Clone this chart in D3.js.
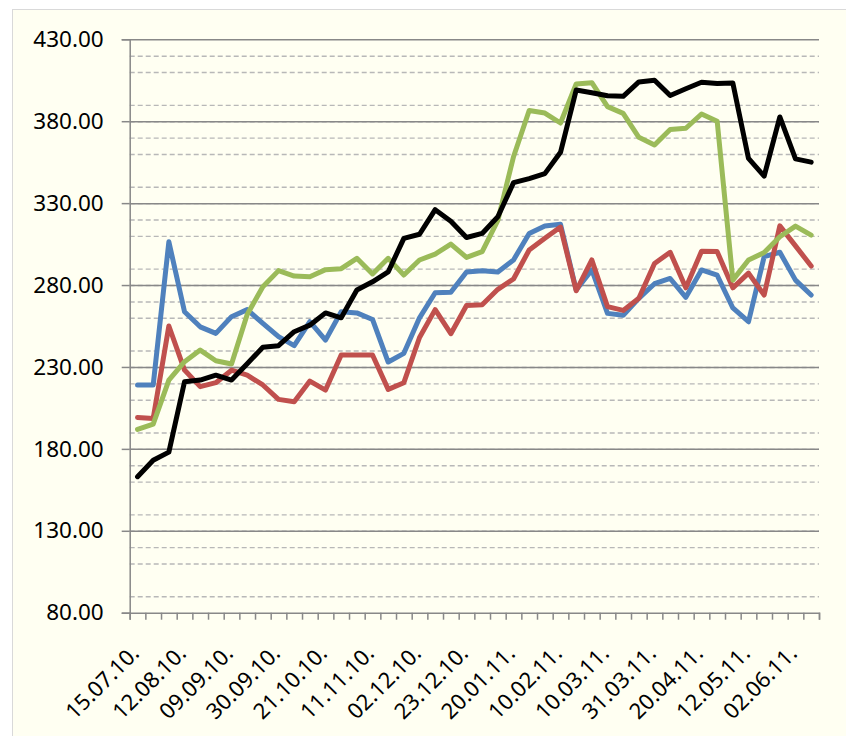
<!DOCTYPE html>
<html>
<head>
<meta charset="utf-8">
<script src="https://cdn.jsdelivr.net/npm/d3@7"></script>
<style>
  body { margin: 0; background: #ffffff; }
  svg { display: block; font-family: "Noto Sans", sans-serif; }
</style>
</head>
<body>
<svg width="846" height="736"></svg>
<script>
// tick labels, one every third category (44 categories in all)
const tickLabels = ['15.07.10.', '12.08.10.', '09.09.10.', '30.09.10.', '21.10.10.', '11.11.10.', '02.12.10.',
  '23.12.10.', '20.01.11.', '10.02.11.', '10.03.11.', '31.03.11.', '20.04.11.', '12.05.11.', '02.06.11.'];

const blue = [219, 219, 306.4, 263.7, 254.5, 250.5, 260.7, 265, 256.6, 248.5, 243, 257.6, 246.4, 263.7, 263, 259,
  233, 238.3, 260, 275.3, 275.6, 288, 288.7, 288, 295.3, 311.5, 316.1, 317.1, 277, 289.2, 262.7, 261.5,
  271.9, 280.8, 284, 272.5, 289.2, 286, 266, 257.6, 297.3, 300, 283, 273.9];
const red = [199.2, 198.6, 255, 228.1, 218, 220.4, 228, 225, 219, 210.2, 208.8, 221.4, 215.9, 237.3, 237.3, 237.3,
  216.3, 220.4, 248, 265, 250.3, 267.5, 268, 277.4, 283.7, 301.4, 308.5, 315.4, 276.5, 295.3, 266.8, 264.5,
  271.9, 293.2, 300, 278.3, 300.6, 300.4, 278.3, 287.3, 273.9, 316.1, 303.9, 291.6];
const green = [191.9, 195.1, 222, 233.2, 240.3, 233.8, 231.8, 262, 279, 288.8, 285.5, 285.1, 289.4, 290, 296.3, 286.8,
  296.3, 286.1, 295.3, 298.9, 305, 296.9, 300.4, 319.5, 358.3, 386.5, 385, 378.9, 402.7, 403.5, 388.9, 384.8,
  370.2, 365.5, 375, 375.7, 384.4, 380, 283, 295.3, 299.8, 309.5, 316, 310.5];
const black = [163, 173, 178, 221, 222, 225, 222, 232, 242, 243, 251.5, 255.5, 263, 260, 277, 282,
  288, 308.5, 311, 326, 319, 309, 311.5, 321.7, 342.5, 345, 348, 361, 399, 397.4, 395.5, 395.2,
  404, 405, 395.7, 399.8, 403.8, 403, 403.3, 357.3, 346.5, 382.6, 357, 355];

const series = [
  {values: blue, color: '#4F81BD'},
  {values: red, color: '#C0504D'},
  {values: green, color: '#9BBB59'},
  {values: black, color: '#000000'}
];

const svg = d3.select('svg');
const plotLeft = 129.7, plotRight = 819, plotTop = 39.3, plotBottom = 612.7;

svg.append('rect')
  .attr('x', 12.5).attr('y', 9.5)
  .attr('width', 840).attr('height', 740)
  .attr('fill', '#FFFFF2')
  .attr('stroke', '#D9D9D9');

const idx = d3.range(blue.length);
const x = d3.scaleBand().domain(idx).range([plotLeft, plotRight]);
const cx = (i) => x(i) + x.bandwidth() / 2;
const y = d3.scaleLinear().domain([80, 430]).range([plotBottom, plotTop]);

const majors = d3.range(80, 431, 50);
const minors = d3.range(90, 430, 10).filter((v) => v % 50 !== 0);

// minor dashed grid
svg.append('g')
  .attr('transform', `translate(${plotLeft},0)`)
  .call(d3.axisLeft(y).tickValues(minors).tickSize(-(plotRight - plotLeft)).tickFormat(''))
  .call((g) => g.select('.domain').remove())
  .call((g) => g.selectAll('line')
    .attr('stroke', '#B8B8B8')
    .attr('stroke-width', 1.4)
    .attr('stroke-dasharray', '5,3'));

// major solid grid
svg.append('g')
  .attr('transform', `translate(${plotLeft},0)`)
  .call(d3.axisLeft(y).tickValues(majors.slice(1)).tickSize(-(plotRight - plotLeft)).tickFormat(''))
  .call((g) => g.select('.domain').remove())
  .call((g) => g.selectAll('line').attr('stroke', '#888888').attr('stroke-width', 1.5));

// y axis with labels
svg.append('g')
  .attr('transform', `translate(${plotLeft},0)`)
  .call(d3.axisLeft(y).tickValues(majors).tickSize(8).tickPadding(18).tickFormat(d3.format('.2f')))
  .call((g) => g.select('.domain').attr('stroke', '#888888').attr('stroke-width', 1.5))
  .call((g) => g.selectAll('line').attr('stroke', '#888888').attr('stroke-width', 1.5))
  .call((g) => g.selectAll('text')
    .attr('font-family', '"Noto Sans", sans-serif')
    .attr('font-size', 22.5)
    .attr('fill', '#000'));

// x axis: ticks between categories
const xb = d3.scaleLinear().domain([0, idx.length]).range([plotLeft, plotRight]);
svg.append('g')
  .attr('transform', `translate(0,${plotBottom})`)
  .call(d3.axisBottom(xb).tickValues(d3.range(0, idx.length + 1)).tickSize(7).tickFormat(''))
  .call((g) => g.select('.domain').attr('stroke', '#888888').attr('stroke-width', 1.5))
  .call((g) => g.selectAll('line').attr('stroke', '#888888').attr('stroke-width', 1.5));

svg.append('g')
  .selectAll('text')
  .data(tickLabels)
  .join('text')
  .attr('transform', (d, k) => `translate(${cx(k * 3) + 3},${plotBottom + 42}) rotate(-45)`)
  .attr('text-anchor', 'end')
  .attr('font-size', 22)
  .attr('fill', '#000')
  .text((d) => d);

const line = d3.line()
  .x((d, i) => cx(i))
  .y((d) => y(d));

series.forEach((s) => {
  svg.append('path')
    .datum(s.values)
    .attr('fill', 'none')
    .attr('stroke', s.color)
    .attr('stroke-width', 5)
    .attr('stroke-linejoin', 'round')
    .attr('stroke-linecap', 'round')
    .attr('d', line);
});
</script>
</body>
</html>
